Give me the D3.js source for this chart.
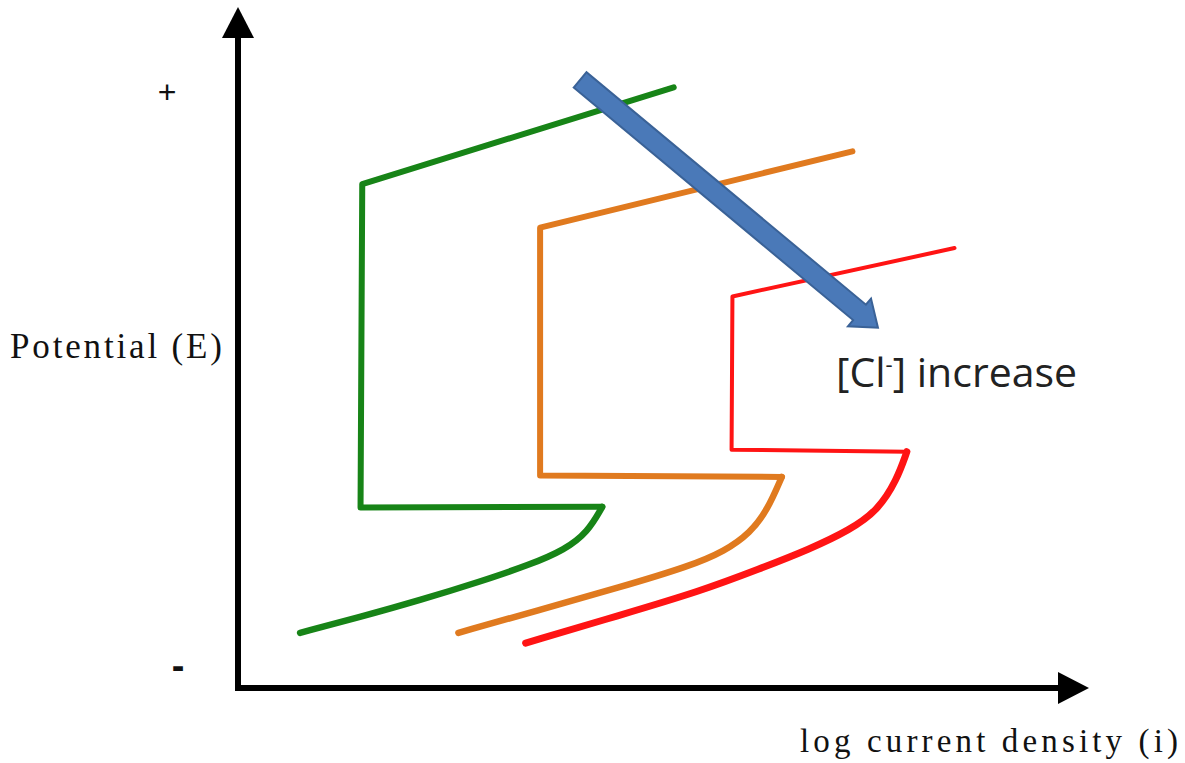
<!DOCTYPE html>
<html>
<head>
<meta charset="utf-8">
<script src="https://cdn.jsdelivr.net/npm/d3@7"></script>
<style>
  html, body { margin: 0; padding: 0; background: #ffffff; }
  svg { display: block; }
</style>
</head>
<body>
<svg id="chart" width="1185" height="763"></svg>
<script>
// Schematic anodic polarization curves: potential E vs. log current density,
// for three chloride concentrations (arbitrary units, 0–10 on both axes).

// Low [Cl-]
const greenCathodic = [[0.73, 0.81], [1.43, 1.04], [2.14, 1.29], [2.84, 1.56], [3.43, 1.81], [3.84, 2.03], [4.11, 2.29], [4.28, 2.66]];
const greenPassive  = [[4.28, 2.66], [1.44, 2.65], [1.46, 7.40], [5.12, 8.82]];

// Medium [Cl-]
const orangeCathodic = [[2.59, 0.81], [3.55, 1.15], [4.49, 1.48], [5.31, 1.79], [5.72, 2.01], [6.02, 2.28], [6.22, 2.61], [6.39, 3.10]];
const orangePassive  = [[6.39, 3.10], [3.55, 3.12], [3.55, 6.76], [7.22, 7.88]];

// High [Cl-]
const redCathodic = [[3.38, 0.66], [4.49, 1.07], [5.43, 1.42], [6.13, 1.75], [6.72, 2.04], [7.19, 2.32], [7.52, 2.61], [7.74, 3.05], [7.86, 3.47]];
const redPassive  = [[7.86, 3.47], [5.80, 3.50], [5.81, 5.75], [8.42, 6.46]];

// Trend arrow: from tail to tip
const trendArrow = [[4.02, 8.93], [7.52, 5.29]];

const yAxisTitle = "Potential (E)";
const xAxisTitle = "log current density (i)";
const trendLabel = ["[Cl", "-", "] increase"];
const highMark = "+";
const lowMark = "-";

const svg = d3.select("#chart");

const x = d3.scaleLinear().domain([0, 10]).range([238, 1089]);
const y = d3.scaleLinear().domain([0, 10]).range([688, 7]);

// ---- axes with arrowheads ----
const axisW = 6;
const x0 = x(0), y0 = y(0), xEnd = x.range()[1], yEnd = y.range()[1];
const headLen = 31, headHalf = 16;

svg.append("path")
  .attr("d", `M${x0},${y0 + axisW / 2} V${yEnd + headLen - 1}`)
  .attr("stroke", "#000").attr("stroke-width", axisW).attr("fill", "none");
svg.append("path")
  .attr("d", `M${x0 - axisW / 2},${y0} H${xEnd - headLen + 1}`)
  .attr("stroke", "#000").attr("stroke-width", axisW).attr("fill", "none");

svg.append("path")
  .attr("d", `M${x0},${yEnd} L${x0 + headHalf},${yEnd + headLen} L${x0 - headHalf},${yEnd + headLen} Z`)
  .attr("fill", "#000");
svg.append("path")
  .attr("d", `M${xEnd},${y0} L${xEnd - headLen},${y0 - headHalf} L${xEnd - headLen},${y0 + headHalf} Z`)
  .attr("fill", "#000");

// ---- curves ----
const smooth = d3.line().x(d => x(d[0])).y(d => y(d[1])).curve(d3.curveBasis);
const straight = d3.line().x(d => x(d[0])).y(d => y(d[1]));

const series = [
  { cathodic: greenCathodic,  passive: greenPassive,  color: "#178417", wc: 6.5, wp: 6 },
  { cathodic: orangeCathodic, passive: orangePassive, color: "#e07a1f", wc: 6.5, wp: 6 },
  { cathodic: redCathodic,    passive: redPassive,    color: "#ff1414", wc: 7,   wp: 4 }
];

const g = svg.append("g");
series.forEach(s => {
  g.append("path").attr("d", straight(s.passive))
    .attr("fill", "none").attr("stroke", s.color).attr("stroke-width", s.wp)
    .attr("stroke-linejoin", "round").attr("stroke-linecap", "round");
  g.append("path").attr("d", smooth(s.cathodic))
    .attr("fill", "none").attr("stroke", s.color).attr("stroke-width", s.wc)
    .attr("stroke-linejoin", "round").attr("stroke-linecap", "round");
});

// ---- block arrow showing the trend ----
(function drawBlockArrow() {
  const [ax, ay] = [x(trendArrow[0][0]), y(trendArrow[0][1])];
  const [bx, by] = [x(trendArrow[1][0]), y(trendArrow[1][1])];
  const len = Math.hypot(bx - ax, by - ay);
  const ux = (bx - ax) / len, uy = (by - ay) / len;
  const px = -uy, py = ux;
  const shaft = 10, head = 18, hLen = 24;
  const hx = bx - ux * hLen, hy = by - uy * hLen;
  const pts = [
    [ax + px * shaft, ay + py * shaft],
    [hx + px * shaft, hy + py * shaft],
    [hx + px * head,  hy + py * head],
    [bx, by],
    [hx - px * head,  hy - py * head],
    [hx - px * shaft, hy - py * shaft],
    [ax - px * shaft, ay - py * shaft]
  ];
  svg.append("path")
    .attr("d", "M" + pts.map(p => p.join(",")).join("L") + "Z")
    .attr("fill", "#4a79b8").attr("stroke", "#3a6297").attr("stroke-width", 2)
    .attr("stroke-linejoin", "miter");
})();

// ---- text ----
svg.append("text")
  .attr("x", 10).attr("y", 358)
  .attr("font-family", "'Liberation Serif', 'Times New Roman', serif")
  .attr("font-size", 35).attr("fill", "#111")
  .attr("textLength", 212).attr("lengthAdjust", "spacing")
  .text(yAxisTitle);

svg.append("text")
  .attr("x", 800).attr("y", 752)
  .attr("font-family", "'Liberation Serif', 'Times New Roman', serif")
  .attr("font-size", 33).attr("fill", "#111")
  .attr("textLength", 378).attr("lengthAdjust", "spacing")
  .text(xAxisTitle);

const lbl = svg.append("text")
  .attr("x", 836).attr("y", 387)
  .attr("font-family", "'Open Sans', 'Liberation Sans', sans-serif")
  .attr("font-size", 41).attr("fill", "#222");
lbl.append("tspan").text(trendLabel[0]);
lbl.append("tspan").attr("dy", -15).attr("font-size", 22).text(trendLabel[1]);
lbl.append("tspan").attr("dy", 15).text(trendLabel[2]);

svg.append("text")
  .attr("x", 167).attr("y", 103).attr("text-anchor", "middle")
  .attr("font-family", "'Liberation Sans', sans-serif")
  .attr("font-size", 32).attr("fill", "#111")
  .text(highMark);

svg.append("text")
  .attr("x", 178).attr("y", 679).attr("text-anchor", "middle")
  .attr("font-family", "'Liberation Sans', sans-serif").attr("font-weight", "bold")
  .attr("font-size", 38).attr("fill", "#111")
  .text(lowMark);
</script>
</body>
</html>
